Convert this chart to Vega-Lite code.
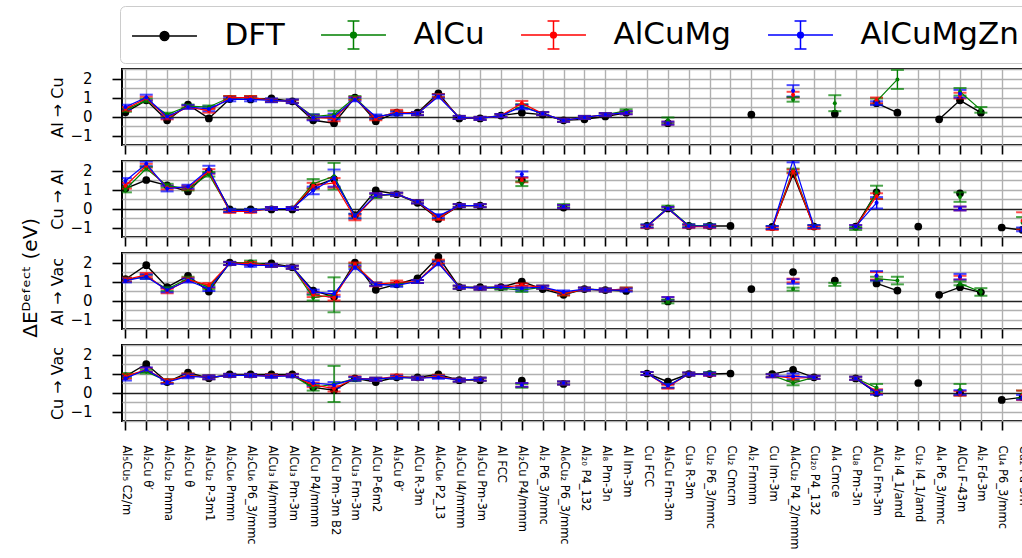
{
"$schema": "https://vega.github.io/schema/vega-lite/v6.json",
"padding": {"left": 20, "top": 5, "right": 0, "bottom": 0},
"title": {"text": "ΔEᴰᵉᶠᵉᶜᵗ (eV)", "orient": "left", "anchor": "middle", "fontSize": 20, "fontWeight": "normal", "font": "DejaVu Sans", "color": "black", "offset": 8},
"spacing": 16,
"bounds": "flush",
"resolve": {"scale": {"color": "shared"}, "legend": {"color": "shared"}},
"data": {"values": [
{"p":1,"i":1,"s":"DFT","v":0.22},{"p":1,"i":2,"s":"DFT","v":0.85},{"p":1,"i":3,"s":"DFT","v":-0.2},{"p":1,"i":4,"s":"DFT","v":0.62},{"p":1,"i":5,"s":"DFT","v":-0.1},{"p":1,"i":6,"s":"DFT","v":0.92},{"p":1,"i":7,"s":"DFT","v":0.9},{"p":1,"i":8,"s":"DFT","v":0.95},{"p":1,"i":9,"s":"DFT","v":0.8},{"p":1,"i":10,"s":"DFT","v":-0.2},{"p":1,"i":11,"s":"DFT","v":-0.35},{"p":1,"i":12,"s":"DFT","v":1.0},{"p":1,"i":13,"s":"DFT","v":-0.25},{"p":1,"i":14,"s":"DFT","v":0.2},{"p":1,"i":15,"s":"DFT","v":0.2},{"p":1,"i":16,"s":"DFT","v":1.22},{"p":1,"i":17,"s":"DFT","v":-0.1},{"p":1,"i":18,"s":"DFT","v":-0.1},{"p":1,"i":19,"s":"DFT","v":0.05},{"p":1,"i":20,"s":"DFT","v":0.2},{"p":1,"i":21,"s":"DFT","v":0.1},{"p":1,"i":22,"s":"DFT","v":-0.2},{"p":1,"i":23,"s":"DFT","v":-0.15},{"p":1,"i":24,"s":"DFT","v":0.0},{"p":1,"i":25,"s":"DFT","v":0.2},{"p":1,"i":26,"s":"DFT","v":null},{"p":1,"i":27,"s":"DFT","v":-0.35},{"p":1,"i":28,"s":"DFT","v":null},{"p":1,"i":31,"s":"DFT","v":0.1},{"p":1,"i":32,"s":"DFT","v":null},{"p":1,"i":35,"s":"DFT","v":0.15},{"p":1,"i":36,"s":"DFT","v":null},{"p":1,"i":37,"s":"DFT","v":0.7},{"p":1,"i":38,"s":"DFT","v":0.2},{"p":1,"i":39,"s":"DFT","v":null},{"p":1,"i":40,"s":"DFT","v":-0.15},{"p":1,"i":41,"s":"DFT","v":0.85},{"p":1,"i":42,"s":"DFT","v":0.2},
{"p":1,"i":1,"s":"AlCu","v":0.35,"e":0.1},{"p":1,"i":2,"s":"AlCu","v":0.85,"e":0.1},{"p":1,"i":3,"s":"AlCu","v":0.1,"e":0.1},{"p":1,"i":4,"s":"AlCu","v":0.55,"e":0.08},{"p":1,"i":5,"s":"AlCu","v":0.5,"e":0.08},{"p":1,"i":6,"s":"AlCu","v":1.0,"e":0.08},{"p":1,"i":7,"s":"AlCu","v":1.0,"e":0.08},{"p":1,"i":8,"s":"AlCu","v":0.85,"e":0.08},{"p":1,"i":9,"s":"AlCu","v":0.8,"e":0.08},{"p":1,"i":10,"s":"AlCu","v":0.0,"e":0.12},{"p":1,"i":11,"s":"AlCu","v":0.1,"e":0.2},{"p":1,"i":12,"s":"AlCu","v":1.0,"e":0.08},{"p":1,"i":13,"s":"AlCu","v":-0.05,"e":0.1},{"p":1,"i":14,"s":"AlCu","v":0.2,"e":0.1},{"p":1,"i":15,"s":"AlCu","v":0.15,"e":0.08},{"p":1,"i":16,"s":"AlCu","v":1.1,"e":0.08},{"p":1,"i":17,"s":"AlCu","v":-0.05,"e":0.08},{"p":1,"i":18,"s":"AlCu","v":-0.1,"e":0.08},{"p":1,"i":19,"s":"AlCu","v":0.05,"e":0.08},{"p":1,"i":20,"s":"AlCu","v":0.55,"e":0.1},{"p":1,"i":21,"s":"AlCu","v":0.15,"e":0.08},{"p":1,"i":22,"s":"AlCu","v":-0.2,"e":0.08},{"p":1,"i":23,"s":"AlCu","v":-0.05,"e":0.08},{"p":1,"i":24,"s":"AlCu","v":0.1,"e":0.08},{"p":1,"i":25,"s":"AlCu","v":0.3,"e":0.08},{"p":1,"i":26,"s":"AlCu","v":null},{"p":1,"i":27,"s":"AlCu","v":-0.2,"e":0.15},{"p":1,"i":28,"s":"AlCu","v":null},{"p":1,"i":33,"s":"AlCu","v":0.9,"e":0.12},{"p":1,"i":34,"s":"AlCu","v":null},{"p":1,"i":35,"s":"AlCu","v":0.7,"e":0.42},{"p":1,"i":36,"s":"AlCu","v":null},{"p":1,"i":37,"s":"AlCu","v":0.8,"e":0.15},{"p":1,"i":38,"s":"AlCu","v":1.95,"e":0.5},{"p":1,"i":39,"s":"AlCu","v":null},{"p":1,"i":41,"s":"AlCu","v":1.3,"e":0.2},{"p":1,"i":42,"s":"AlCu","v":0.35,"e":0.15},
{"p":1,"i":1,"s":"AlCuMg","v":0.4,"e":0.1},{"p":1,"i":2,"s":"AlCuMg","v":0.95,"e":0.1},{"p":1,"i":3,"s":"AlCuMg","v":-0.05,"e":0.1},{"p":1,"i":4,"s":"AlCuMg","v":0.5,"e":0.08},{"p":1,"i":5,"s":"AlCuMg","v":0.3,"e":0.1},{"p":1,"i":6,"s":"AlCuMg","v":1.0,"e":0.08},{"p":1,"i":7,"s":"AlCuMg","v":1.0,"e":0.08},{"p":1,"i":8,"s":"AlCuMg","v":0.85,"e":0.08},{"p":1,"i":9,"s":"AlCuMg","v":0.8,"e":0.08},{"p":1,"i":10,"s":"AlCuMg","v":-0.05,"e":0.12},{"p":1,"i":11,"s":"AlCuMg","v":-0.1,"e":0.15},{"p":1,"i":12,"s":"AlCuMg","v":0.95,"e":0.08},{"p":1,"i":13,"s":"AlCuMg","v":-0.1,"e":0.1},{"p":1,"i":14,"s":"AlCuMg","v":0.25,"e":0.1},{"p":1,"i":15,"s":"AlCuMg","v":0.15,"e":0.08},{"p":1,"i":16,"s":"AlCuMg","v":1.1,"e":0.08},{"p":1,"i":17,"s":"AlCuMg","v":-0.05,"e":0.08},{"p":1,"i":18,"s":"AlCuMg","v":-0.1,"e":0.08},{"p":1,"i":19,"s":"AlCuMg","v":0.05,"e":0.08},{"p":1,"i":20,"s":"AlCuMg","v":0.7,"e":0.12},{"p":1,"i":21,"s":"AlCuMg","v":0.15,"e":0.08},{"p":1,"i":22,"s":"AlCuMg","v":-0.2,"e":0.08},{"p":1,"i":23,"s":"AlCuMg","v":-0.05,"e":0.08},{"p":1,"i":24,"s":"AlCuMg","v":0.1,"e":0.08},{"p":1,"i":25,"s":"AlCuMg","v":0.2,"e":0.08},{"p":1,"i":26,"s":"AlCuMg","v":null},{"p":1,"i":27,"s":"AlCuMg","v":-0.35,"e":0.08},{"p":1,"i":28,"s":"AlCuMg","v":null},{"p":1,"i":33,"s":"AlCuMg","v":1.15,"e":0.15},{"p":1,"i":34,"s":"AlCuMg","v":null},{"p":1,"i":37,"s":"AlCuMg","v":0.85,"e":0.15},{"p":1,"i":39,"s":"AlCuMg","v":null},{"p":1,"i":41,"s":"AlCuMg","v":1.1,"e":0.15},
{"p":1,"i":1,"s":"AlCuMgZn","v":0.5,"e":0.12},{"p":1,"i":2,"s":"AlCuMgZn","v":1.0,"e":0.15},{"p":1,"i":3,"s":"AlCuMgZn","v":0.0,"e":0.1},{"p":1,"i":4,"s":"AlCuMgZn","v":0.5,"e":0.1},{"p":1,"i":5,"s":"AlCuMgZn","v":0.4,"e":0.12},{"p":1,"i":6,"s":"AlCuMgZn","v":0.9,"e":0.1},{"p":1,"i":7,"s":"AlCuMgZn","v":0.9,"e":0.1},{"p":1,"i":8,"s":"AlCuMgZn","v":0.85,"e":0.1},{"p":1,"i":9,"s":"AlCuMgZn","v":0.8,"e":0.1},{"p":1,"i":10,"s":"AlCuMgZn","v":-0.05,"e":0.15},{"p":1,"i":11,"s":"AlCuMgZn","v":0.0,"e":0.15},{"p":1,"i":12,"s":"AlCuMgZn","v":0.9,"e":0.1},{"p":1,"i":13,"s":"AlCuMgZn","v":0.0,"e":0.1},{"p":1,"i":14,"s":"AlCuMgZn","v":0.15,"e":0.1},{"p":1,"i":15,"s":"AlCuMgZn","v":0.15,"e":0.08},{"p":1,"i":16,"s":"AlCuMgZn","v":1.05,"e":0.1},{"p":1,"i":17,"s":"AlCuMgZn","v":-0.05,"e":0.08},{"p":1,"i":18,"s":"AlCuMgZn","v":-0.1,"e":0.08},{"p":1,"i":19,"s":"AlCuMgZn","v":0.05,"e":0.08},{"p":1,"i":20,"s":"AlCuMgZn","v":0.5,"e":0.12},{"p":1,"i":21,"s":"AlCuMgZn","v":0.15,"e":0.08},{"p":1,"i":22,"s":"AlCuMgZn","v":-0.2,"e":0.08},{"p":1,"i":23,"s":"AlCuMgZn","v":-0.05,"e":0.08},{"p":1,"i":24,"s":"AlCuMgZn","v":0.1,"e":0.08},{"p":1,"i":25,"s":"AlCuMgZn","v":0.2,"e":0.08},{"p":1,"i":26,"s":"AlCuMgZn","v":null},{"p":1,"i":27,"s":"AlCuMgZn","v":-0.35,"e":0.08},{"p":1,"i":28,"s":"AlCuMgZn","v":null},{"p":1,"i":33,"s":"AlCuMgZn","v":1.35,"e":0.3},{"p":1,"i":34,"s":"AlCuMgZn","v":null},{"p":1,"i":37,"s":"AlCuMgZn","v":0.7,"e":0.1},{"p":1,"i":39,"s":"AlCuMgZn","v":null},{"p":1,"i":41,"s":"AlCuMgZn","v":1.2,"e":0.2},

{"p":2,"i":1,"s":"DFT","v":1.05},{"p":2,"i":2,"s":"DFT","v":1.5},{"p":2,"i":3,"s":"DFT","v":1.22},{"p":2,"i":4,"s":"DFT","v":0.9},{"p":2,"i":5,"s":"DFT","v":1.95},{"p":2,"i":6,"s":"DFT","v":-0.05},{"p":2,"i":7,"s":"DFT","v":-0.05},{"p":2,"i":8,"s":"DFT","v":-0.05},{"p":2,"i":9,"s":"DFT","v":-0.05},{"p":2,"i":10,"s":"DFT","v":1.15},{"p":2,"i":11,"s":"DFT","v":1.55},{"p":2,"i":12,"s":"DFT","v":-0.35},{"p":2,"i":13,"s":"DFT","v":0.95},{"p":2,"i":14,"s":"DFT","v":0.75},{"p":2,"i":15,"s":"DFT","v":0.3},{"p":2,"i":16,"s":"DFT","v":-0.55},{"p":2,"i":17,"s":"DFT","v":0.15},{"p":2,"i":18,"s":"DFT","v":0.15},{"p":2,"i":19,"s":"DFT","v":null},{"p":2,"i":20,"s":"DFT","v":1.5},{"p":2,"i":21,"s":"DFT","v":null},{"p":2,"i":22,"s":"DFT","v":0.05},{"p":2,"i":23,"s":"DFT","v":null},{"p":2,"i":26,"s":"DFT","v":-0.92},{"p":2,"i":27,"s":"DFT","v":0.0},{"p":2,"i":28,"s":"DFT","v":-0.92},{"p":2,"i":29,"s":"DFT","v":-0.92},{"p":2,"i":30,"s":"DFT","v":-0.92},{"p":2,"i":31,"s":"DFT","v":null},{"p":2,"i":32,"s":"DFT","v":-0.97},{"p":2,"i":33,"s":"DFT","v":1.82},{"p":2,"i":34,"s":"DFT","v":-0.95},{"p":2,"i":35,"s":"DFT","v":null},{"p":2,"i":36,"s":"DFT","v":-0.95},{"p":2,"i":37,"s":"DFT","v":0.85},{"p":2,"i":38,"s":"DFT","v":null},{"p":2,"i":39,"s":"DFT","v":-0.95},{"p":2,"i":40,"s":"DFT","v":null},{"p":2,"i":41,"s":"DFT","v":0.8},{"p":2,"i":42,"s":"DFT","v":null},{"p":2,"i":43,"s":"DFT","v":-1.0},{"p":2,"i":44,"s":"DFT","v":-1.13},
{"p":2,"i":1,"s":"AlCu","v":1.0,"e":0.15},{"p":2,"i":2,"s":"AlCu","v":2.1,"e":0.1},{"p":2,"i":3,"s":"AlCu","v":1.2,"e":0.1},{"p":2,"i":4,"s":"AlCu","v":1.05,"e":0.1},{"p":2,"i":5,"s":"AlCu","v":1.8,"e":0.12},{"p":2,"i":6,"s":"AlCu","v":-0.1,"e":0.08},{"p":2,"i":7,"s":"AlCu","v":-0.1,"e":0.08},{"p":2,"i":8,"s":"AlCu","v":0.0,"e":0.08},{"p":2,"i":9,"s":"AlCu","v":0.0,"e":0.08},{"p":2,"i":10,"s":"AlCu","v":1.3,"e":0.25},{"p":2,"i":11,"s":"AlCu","v":1.7,"e":0.7},{"p":2,"i":12,"s":"AlCu","v":-0.4,"e":0.12},{"p":2,"i":13,"s":"AlCu","v":0.65,"e":0.1},{"p":2,"i":14,"s":"AlCu","v":0.75,"e":0.08},{"p":2,"i":15,"s":"AlCu","v":0.35,"e":0.08},{"p":2,"i":16,"s":"AlCu","v":-0.45,"e":0.1},{"p":2,"i":17,"s":"AlCu","v":0.15,"e":0.08},{"p":2,"i":18,"s":"AlCu","v":0.15,"e":0.08},{"p":2,"i":19,"s":"AlCu","v":null},{"p":2,"i":20,"s":"AlCu","v":1.3,"e":0.12},{"p":2,"i":21,"s":"AlCu","v":null},{"p":2,"i":22,"s":"AlCu","v":0.15,"e":0.08},{"p":2,"i":23,"s":"AlCu","v":null},{"p":2,"i":26,"s":"AlCu","v":-0.92,"e":0.08},{"p":2,"i":27,"s":"AlCu","v":0.05,"e":0.1},{"p":2,"i":28,"s":"AlCu","v":-0.9,"e":0.08},{"p":2,"i":29,"s":"AlCu","v":-0.9,"e":0.08},{"p":2,"i":30,"s":"AlCu","v":null},{"p":2,"i":32,"s":"AlCu","v":-1.0,"e":0.08},{"p":2,"i":33,"s":"AlCu","v":2.0,"e":0.1},{"p":2,"i":34,"s":"AlCu","v":-0.95,"e":0.08},{"p":2,"i":35,"s":"AlCu","v":null},{"p":2,"i":36,"s":"AlCu","v":-1.05,"e":0.08},{"p":2,"i":37,"s":"AlCu","v":0.85,"e":0.35},{"p":2,"i":38,"s":"AlCu","v":null},{"p":2,"i":41,"s":"AlCu","v":0.6,"e":0.25},{"p":2,"i":42,"s":"AlCu","v":null},{"p":2,"i":44,"s":"AlCu","v":-0.75,"e":0.3},
{"p":2,"i":1,"s":"AlCuMg","v":1.2,"e":0.15},{"p":2,"i":2,"s":"AlCuMg","v":2.25,"e":0.1},{"p":2,"i":3,"s":"AlCuMg","v":1.1,"e":0.1},{"p":2,"i":4,"s":"AlCuMg","v":1.1,"e":0.1},{"p":2,"i":5,"s":"AlCuMg","v":1.95,"e":0.12},{"p":2,"i":6,"s":"AlCuMg","v":-0.15,"e":0.08},{"p":2,"i":7,"s":"AlCuMg","v":-0.15,"e":0.08},{"p":2,"i":8,"s":"AlCuMg","v":0.0,"e":0.08},{"p":2,"i":9,"s":"AlCuMg","v":0.0,"e":0.08},{"p":2,"i":10,"s":"AlCuMg","v":1.2,"e":0.15},{"p":2,"i":11,"s":"AlCuMg","v":1.35,"e":0.25},{"p":2,"i":12,"s":"AlCuMg","v":-0.5,"e":0.12},{"p":2,"i":13,"s":"AlCuMg","v":0.7,"e":0.1},{"p":2,"i":14,"s":"AlCuMg","v":0.75,"e":0.08},{"p":2,"i":15,"s":"AlCuMg","v":0.35,"e":0.08},{"p":2,"i":16,"s":"AlCuMg","v":-0.5,"e":0.1},{"p":2,"i":17,"s":"AlCuMg","v":0.15,"e":0.08},{"p":2,"i":18,"s":"AlCuMg","v":0.15,"e":0.08},{"p":2,"i":19,"s":"AlCuMg","v":null},{"p":2,"i":20,"s":"AlCuMg","v":1.5,"e":0.12},{"p":2,"i":21,"s":"AlCuMg","v":null},{"p":2,"i":22,"s":"AlCuMg","v":0.1,"e":0.08},{"p":2,"i":23,"s":"AlCuMg","v":null},{"p":2,"i":26,"s":"AlCuMg","v":-0.95,"e":0.08},{"p":2,"i":27,"s":"AlCuMg","v":0.0,"e":0.08},{"p":2,"i":28,"s":"AlCuMg","v":-0.95,"e":0.08},{"p":2,"i":29,"s":"AlCuMg","v":-0.95,"e":0.08},{"p":2,"i":30,"s":"AlCuMg","v":null},{"p":2,"i":32,"s":"AlCuMg","v":-1.05,"e":0.08},{"p":2,"i":33,"s":"AlCuMg","v":1.95,"e":0.1},{"p":2,"i":34,"s":"AlCuMg","v":-1.0,"e":0.08},{"p":2,"i":35,"s":"AlCuMg","v":null},{"p":2,"i":36,"s":"AlCuMg","v":-0.95,"e":0.08},{"p":2,"i":37,"s":"AlCuMg","v":0.65,"e":0.15},{"p":2,"i":38,"s":"AlCuMg","v":null},{"p":2,"i":41,"s":"AlCuMg","v":0.0,"e":0.1},{"p":2,"i":42,"s":"AlCuMg","v":null},{"p":2,"i":44,"s":"AlCuMg","v":-0.65,"e":0.45},
{"p":2,"i":1,"s":"AlCuMgZn","v":1.45,"e":0.15},{"p":2,"i":2,"s":"AlCuMgZn","v":2.35,"e":0.12},{"p":2,"i":3,"s":"AlCuMgZn","v":1.05,"e":0.15},{"p":2,"i":4,"s":"AlCuMgZn","v":1.15,"e":0.1},{"p":2,"i":5,"s":"AlCuMgZn","v":2.05,"e":0.2},{"p":2,"i":6,"s":"AlCuMgZn","v":-0.1,"e":0.08},{"p":2,"i":7,"s":"AlCuMgZn","v":-0.1,"e":0.08},{"p":2,"i":8,"s":"AlCuMgZn","v":0.0,"e":0.08},{"p":2,"i":9,"s":"AlCuMgZn","v":0.0,"e":0.08},{"p":2,"i":10,"s":"AlCuMgZn","v":0.95,"e":0.2},{"p":2,"i":11,"s":"AlCuMgZn","v":1.6,"e":0.45},{"p":2,"i":12,"s":"AlCuMgZn","v":-0.4,"e":0.12},{"p":2,"i":13,"s":"AlCuMgZn","v":0.7,"e":0.1},{"p":2,"i":14,"s":"AlCuMgZn","v":0.75,"e":0.08},{"p":2,"i":15,"s":"AlCuMgZn","v":0.35,"e":0.08},{"p":2,"i":16,"s":"AlCuMgZn","v":-0.4,"e":0.1},{"p":2,"i":17,"s":"AlCuMgZn","v":0.15,"e":0.08},{"p":2,"i":18,"s":"AlCuMgZn","v":0.15,"e":0.08},{"p":2,"i":19,"s":"AlCuMgZn","v":null},{"p":2,"i":20,"s":"AlCuMgZn","v":1.8,"e":0.15},{"p":2,"i":21,"s":"AlCuMgZn","v":null},{"p":2,"i":22,"s":"AlCuMgZn","v":0.1,"e":0.08},{"p":2,"i":23,"s":"AlCuMgZn","v":null},{"p":2,"i":26,"s":"AlCuMgZn","v":-0.92,"e":0.08},{"p":2,"i":27,"s":"AlCuMgZn","v":0.0,"e":0.08},{"p":2,"i":28,"s":"AlCuMgZn","v":-0.92,"e":0.08},{"p":2,"i":29,"s":"AlCuMgZn","v":-0.92,"e":0.08},{"p":2,"i":30,"s":"AlCuMgZn","v":null},{"p":2,"i":32,"s":"AlCuMgZn","v":-1.0,"e":0.08},{"p":2,"i":33,"s":"AlCuMgZn","v":2.55,"e":0.12},{"p":2,"i":34,"s":"AlCuMgZn","v":-0.95,"e":0.08},{"p":2,"i":35,"s":"AlCuMgZn","v":null},{"p":2,"i":36,"s":"AlCuMgZn","v":-0.95,"e":0.08},{"p":2,"i":37,"s":"AlCuMgZn","v":0.3,"e":0.3},{"p":2,"i":38,"s":"AlCuMgZn","v":null},{"p":2,"i":41,"s":"AlCuMgZn","v":0.0,"e":0.1},{"p":2,"i":42,"s":"AlCuMgZn","v":null},{"p":2,"i":44,"s":"AlCuMgZn","v":-1.1,"e":0.1},

{"p":3,"i":1,"s":"DFT","v":1.12},{"p":3,"i":2,"s":"DFT","v":1.86},{"p":3,"i":3,"s":"DFT","v":0.7},{"p":3,"i":4,"s":"DFT","v":1.3},{"p":3,"i":5,"s":"DFT","v":0.47},{"p":3,"i":6,"s":"DFT","v":2.0},{"p":3,"i":7,"s":"DFT","v":1.95},{"p":3,"i":8,"s":"DFT","v":1.95},{"p":3,"i":9,"s":"DFT","v":1.75},{"p":3,"i":10,"s":"DFT","v":0.52},{"p":3,"i":11,"s":"DFT","v":0.2},{"p":3,"i":12,"s":"DFT","v":2.0},{"p":3,"i":13,"s":"DFT","v":0.56},{"p":3,"i":14,"s":"DFT","v":0.85},{"p":3,"i":15,"s":"DFT","v":1.17},{"p":3,"i":16,"s":"DFT","v":2.3},{"p":3,"i":17,"s":"DFT","v":0.7},{"p":3,"i":18,"s":"DFT","v":0.7},{"p":3,"i":19,"s":"DFT","v":0.7},{"p":3,"i":20,"s":"DFT","v":1.0},{"p":3,"i":21,"s":"DFT","v":0.6},{"p":3,"i":22,"s":"DFT","v":0.3},{"p":3,"i":23,"s":"DFT","v":0.6},{"p":3,"i":24,"s":"DFT","v":0.55},{"p":3,"i":25,"s":"DFT","v":0.5},{"p":3,"i":26,"s":"DFT","v":null},{"p":3,"i":27,"s":"DFT","v":-0.05},{"p":3,"i":28,"s":"DFT","v":null},{"p":3,"i":31,"s":"DFT","v":0.6},{"p":3,"i":32,"s":"DFT","v":null},{"p":3,"i":33,"s":"DFT","v":1.5},{"p":3,"i":34,"s":"DFT","v":null},{"p":3,"i":35,"s":"DFT","v":1.05},{"p":3,"i":36,"s":"DFT","v":null},{"p":3,"i":37,"s":"DFT","v":0.9},{"p":3,"i":38,"s":"DFT","v":0.52},{"p":3,"i":39,"s":"DFT","v":null},{"p":3,"i":40,"s":"DFT","v":0.3},{"p":3,"i":41,"s":"DFT","v":0.7},{"p":3,"i":42,"s":"DFT","v":0.43},
{"p":3,"i":1,"s":"AlCu","v":1.1,"e":0.1},{"p":3,"i":2,"s":"AlCu","v":1.25,"e":0.1},{"p":3,"i":3,"s":"AlCu","v":0.6,"e":0.1},{"p":3,"i":4,"s":"AlCu","v":1.15,"e":0.1},{"p":3,"i":5,"s":"AlCu","v":0.7,"e":0.1},{"p":3,"i":6,"s":"AlCu","v":1.95,"e":0.08},{"p":3,"i":7,"s":"AlCu","v":2.0,"e":0.1},{"p":3,"i":8,"s":"AlCu","v":1.85,"e":0.08},{"p":3,"i":9,"s":"AlCu","v":1.75,"e":0.08},{"p":3,"i":10,"s":"AlCu","v":0.15,"e":0.15},{"p":3,"i":11,"s":"AlCu","v":0.3,"e":0.92},{"p":3,"i":12,"s":"AlCu","v":1.85,"e":0.1},{"p":3,"i":13,"s":"AlCu","v":0.85,"e":0.08},{"p":3,"i":14,"s":"AlCu","v":0.85,"e":0.08},{"p":3,"i":15,"s":"AlCu","v":1.0,"e":0.08},{"p":3,"i":16,"s":"AlCu","v":2.0,"e":0.1},{"p":3,"i":17,"s":"AlCu","v":0.7,"e":0.08},{"p":3,"i":18,"s":"AlCu","v":0.65,"e":0.08},{"p":3,"i":19,"s":"AlCu","v":0.65,"e":0.08},{"p":3,"i":20,"s":"AlCu","v":0.55,"e":0.1},{"p":3,"i":21,"s":"AlCu","v":0.7,"e":0.08},{"p":3,"i":22,"s":"AlCu","v":0.35,"e":0.08},{"p":3,"i":23,"s":"AlCu","v":0.6,"e":0.08},{"p":3,"i":24,"s":"AlCu","v":0.55,"e":0.08},{"p":3,"i":25,"s":"AlCu","v":0.6,"e":0.08},{"p":3,"i":26,"s":"AlCu","v":null},{"p":3,"i":27,"s":"AlCu","v":-0.05,"e":0.1},{"p":3,"i":28,"s":"AlCu","v":null},{"p":3,"i":33,"s":"AlCu","v":0.6,"e":0.08},{"p":3,"i":34,"s":"AlCu","v":null},{"p":3,"i":35,"s":"AlCu","v":0.85,"e":0.08},{"p":3,"i":36,"s":"AlCu","v":null},{"p":3,"i":37,"s":"AlCu","v":1.15,"e":0.1},{"p":3,"i":38,"s":"AlCu","v":1.05,"e":0.2},{"p":3,"i":39,"s":"AlCu","v":null},{"p":3,"i":41,"s":"AlCu","v":0.9,"e":0.1},{"p":3,"i":42,"s":"AlCu","v":0.45,"e":0.2},
{"p":3,"i":1,"s":"AlCuMg","v":1.1,"e":0.1},{"p":3,"i":2,"s":"AlCuMg","v":1.35,"e":0.1},{"p":3,"i":3,"s":"AlCuMg","v":0.5,"e":0.12},{"p":3,"i":4,"s":"AlCuMg","v":1.1,"e":0.1},{"p":3,"i":5,"s":"AlCuMg","v":0.8,"e":0.12},{"p":3,"i":6,"s":"AlCuMg","v":1.95,"e":0.08},{"p":3,"i":7,"s":"AlCuMg","v":1.95,"e":0.08},{"p":3,"i":8,"s":"AlCuMg","v":1.85,"e":0.08},{"p":3,"i":9,"s":"AlCuMg","v":1.75,"e":0.08},{"p":3,"i":10,"s":"AlCuMg","v":0.3,"e":0.12},{"p":3,"i":11,"s":"AlCuMg","v":0.15,"e":0.15},{"p":3,"i":12,"s":"AlCuMg","v":1.9,"e":0.1},{"p":3,"i":13,"s":"AlCuMg","v":0.85,"e":0.1},{"p":3,"i":14,"s":"AlCuMg","v":0.95,"e":0.1},{"p":3,"i":15,"s":"AlCuMg","v":1.0,"e":0.08},{"p":3,"i":16,"s":"AlCuMg","v":2.05,"e":0.1},{"p":3,"i":17,"s":"AlCuMg","v":0.7,"e":0.08},{"p":3,"i":18,"s":"AlCuMg","v":0.65,"e":0.08},{"p":3,"i":19,"s":"AlCuMg","v":0.7,"e":0.08},{"p":3,"i":20,"s":"AlCuMg","v":0.8,"e":0.1},{"p":3,"i":21,"s":"AlCuMg","v":0.7,"e":0.08},{"p":3,"i":22,"s":"AlCuMg","v":0.35,"e":0.08},{"p":3,"i":23,"s":"AlCuMg","v":0.6,"e":0.08},{"p":3,"i":24,"s":"AlCuMg","v":0.55,"e":0.08},{"p":3,"i":25,"s":"AlCuMg","v":0.6,"e":0.08},{"p":3,"i":26,"s":"AlCuMg","v":null},{"p":3,"i":27,"s":"AlCuMg","v":0.1,"e":0.08},{"p":3,"i":28,"s":"AlCuMg","v":null},{"p":3,"i":33,"s":"AlCuMg","v":1.05,"e":0.1},{"p":3,"i":34,"s":"AlCuMg","v":null},{"p":3,"i":37,"s":"AlCuMg","v":1.3,"e":0.2},{"p":3,"i":39,"s":"AlCuMg","v":null},{"p":3,"i":41,"s":"AlCuMg","v":1.2,"e":0.1},
{"p":3,"i":1,"s":"AlCuMgZn","v":1.05,"e":0.1},{"p":3,"i":2,"s":"AlCuMgZn","v":1.25,"e":0.12},{"p":3,"i":3,"s":"AlCuMgZn","v":0.55,"e":0.12},{"p":3,"i":4,"s":"AlCuMgZn","v":1.05,"e":0.1},{"p":3,"i":5,"s":"AlCuMgZn","v":0.6,"e":0.1},{"p":3,"i":6,"s":"AlCuMgZn","v":1.95,"e":0.08},{"p":3,"i":7,"s":"AlCuMgZn","v":1.85,"e":0.08},{"p":3,"i":8,"s":"AlCuMgZn","v":1.85,"e":0.08},{"p":3,"i":9,"s":"AlCuMgZn","v":1.75,"e":0.08},{"p":3,"i":10,"s":"AlCuMgZn","v":0.45,"e":0.12},{"p":3,"i":11,"s":"AlCuMgZn","v":0.35,"e":0.15},{"p":3,"i":12,"s":"AlCuMgZn","v":1.75,"e":0.1},{"p":3,"i":13,"s":"AlCuMgZn","v":0.85,"e":0.08},{"p":3,"i":14,"s":"AlCuMgZn","v":0.8,"e":0.08},{"p":3,"i":15,"s":"AlCuMgZn","v":1.0,"e":0.08},{"p":3,"i":16,"s":"AlCuMgZn","v":1.95,"e":0.1},{"p":3,"i":17,"s":"AlCuMgZn","v":0.7,"e":0.08},{"p":3,"i":18,"s":"AlCuMgZn","v":0.65,"e":0.08},{"p":3,"i":19,"s":"AlCuMgZn","v":0.7,"e":0.08},{"p":3,"i":20,"s":"AlCuMgZn","v":0.65,"e":0.12},{"p":3,"i":21,"s":"AlCuMgZn","v":0.7,"e":0.08},{"p":3,"i":22,"s":"AlCuMgZn","v":0.45,"e":0.08},{"p":3,"i":23,"s":"AlCuMgZn","v":0.6,"e":0.08},{"p":3,"i":24,"s":"AlCuMgZn","v":0.55,"e":0.08},{"p":3,"i":25,"s":"AlCuMgZn","v":0.55,"e":0.08},{"p":3,"i":26,"s":"AlCuMgZn","v":null},{"p":3,"i":27,"s":"AlCuMgZn","v":0.1,"e":0.08},{"p":3,"i":28,"s":"AlCuMgZn","v":null},{"p":3,"i":33,"s":"AlCuMgZn","v":1.0,"e":0.12},{"p":3,"i":34,"s":"AlCuMgZn","v":null},{"p":3,"i":37,"s":"AlCuMgZn","v":1.3,"e":0.25},{"p":3,"i":39,"s":"AlCuMgZn","v":null},{"p":3,"i":41,"s":"AlCuMgZn","v":1.25,"e":0.15},

{"p":4,"i":1,"s":"DFT","v":0.85},{"p":4,"i":2,"s":"DFT","v":1.5},{"p":4,"i":3,"s":"DFT","v":0.55},{"p":4,"i":4,"s":"DFT","v":1.05},{"p":4,"i":5,"s":"DFT","v":0.75},{"p":4,"i":6,"s":"DFT","v":0.95},{"p":4,"i":7,"s":"DFT","v":0.95},{"p":4,"i":8,"s":"DFT","v":0.95},{"p":4,"i":9,"s":"DFT","v":0.95},{"p":4,"i":10,"s":"DFT","v":0.27},{"p":4,"i":11,"s":"DFT","v":0.12},{"p":4,"i":12,"s":"DFT","v":0.75},{"p":4,"i":13,"s":"DFT","v":0.55},{"p":4,"i":14,"s":"DFT","v":0.8},{"p":4,"i":15,"s":"DFT","v":0.8},{"p":4,"i":16,"s":"DFT","v":0.95},{"p":4,"i":17,"s":"DFT","v":0.65},{"p":4,"i":18,"s":"DFT","v":0.65},{"p":4,"i":19,"s":"DFT","v":null},{"p":4,"i":20,"s":"DFT","v":0.62},{"p":4,"i":21,"s":"DFT","v":null},{"p":4,"i":22,"s":"DFT","v":0.45},{"p":4,"i":23,"s":"DFT","v":null},{"p":4,"i":26,"s":"DFT","v":1.0},{"p":4,"i":27,"s":"DFT","v":0.57},{"p":4,"i":28,"s":"DFT","v":0.97},{"p":4,"i":29,"s":"DFT","v":0.97},{"p":4,"i":30,"s":"DFT","v":1.0},{"p":4,"i":31,"s":"DFT","v":null},{"p":4,"i":32,"s":"DFT","v":0.97},{"p":4,"i":33,"s":"DFT","v":1.19},{"p":4,"i":34,"s":"DFT","v":0.8},{"p":4,"i":35,"s":"DFT","v":null},{"p":4,"i":36,"s":"DFT","v":0.74},{"p":4,"i":37,"s":"DFT","v":-0.02},{"p":4,"i":38,"s":"DFT","v":null},{"p":4,"i":39,"s":"DFT","v":0.5},{"p":4,"i":40,"s":"DFT","v":null},{"p":4,"i":41,"s":"DFT","v":0.0},{"p":4,"i":42,"s":"DFT","v":null},{"p":4,"i":43,"s":"DFT","v":-0.39},{"p":4,"i":44,"s":"DFT","v":-0.25},
{"p":4,"i":1,"s":"AlCu","v":0.9,"e":0.12},{"p":4,"i":2,"s":"AlCu","v":1.1,"e":0.1},{"p":4,"i":3,"s":"AlCu","v":0.6,"e":0.1},{"p":4,"i":4,"s":"AlCu","v":0.9,"e":0.1},{"p":4,"i":5,"s":"AlCu","v":0.8,"e":0.1},{"p":4,"i":6,"s":"AlCu","v":0.9,"e":0.08},{"p":4,"i":7,"s":"AlCu","v":0.9,"e":0.08},{"p":4,"i":8,"s":"AlCu","v":0.88,"e":0.08},{"p":4,"i":9,"s":"AlCu","v":0.9,"e":0.08},{"p":4,"i":10,"s":"AlCu","v":0.25,"e":0.15},{"p":4,"i":11,"s":"AlCu","v":0.45,"e":0.95},{"p":4,"i":12,"s":"AlCu","v":0.7,"e":0.1},{"p":4,"i":13,"s":"AlCu","v":0.7,"e":0.08},{"p":4,"i":14,"s":"AlCu","v":0.8,"e":0.08},{"p":4,"i":15,"s":"AlCu","v":0.75,"e":0.08},{"p":4,"i":16,"s":"AlCu","v":0.85,"e":0.08},{"p":4,"i":17,"s":"AlCu","v":0.65,"e":0.08},{"p":4,"i":18,"s":"AlCu","v":0.7,"e":0.08},{"p":4,"i":19,"s":"AlCu","v":null},{"p":4,"i":20,"s":"AlCu","v":0.35,"e":0.1},{"p":4,"i":21,"s":"AlCu","v":null},{"p":4,"i":22,"s":"AlCu","v":0.5,"e":0.08},{"p":4,"i":23,"s":"AlCu","v":null},{"p":4,"i":26,"s":"AlCu","v":1.0,"e":0.08},{"p":4,"i":27,"s":"AlCu","v":0.35,"e":0.1},{"p":4,"i":28,"s":"AlCu","v":0.97,"e":0.08},{"p":4,"i":29,"s":"AlCu","v":1.0,"e":0.08},{"p":4,"i":30,"s":"AlCu","v":null},{"p":4,"i":32,"s":"AlCu","v":0.9,"e":0.08},{"p":4,"i":33,"s":"AlCu","v":0.5,"e":0.12},{"p":4,"i":34,"s":"AlCu","v":0.8,"e":0.08},{"p":4,"i":35,"s":"AlCu","v":null},{"p":4,"i":36,"s":"AlCu","v":0.75,"e":0.08},{"p":4,"i":37,"s":"AlCu","v":0.25,"e":0.2},{"p":4,"i":38,"s":"AlCu","v":null},{"p":4,"i":41,"s":"AlCu","v":0.15,"e":0.3},{"p":4,"i":42,"s":"AlCu","v":null},{"p":4,"i":44,"s":"AlCu","v":-0.1,"e":0.2},
{"p":4,"i":1,"s":"AlCuMg","v":0.85,"e":0.12},{"p":4,"i":2,"s":"AlCuMg","v":1.2,"e":0.1},{"p":4,"i":3,"s":"AlCuMg","v":0.6,"e":0.1},{"p":4,"i":4,"s":"AlCuMg","v":0.9,"e":0.1},{"p":4,"i":5,"s":"AlCuMg","v":0.8,"e":0.1},{"p":4,"i":6,"s":"AlCuMg","v":0.9,"e":0.08},{"p":4,"i":7,"s":"AlCuMg","v":0.9,"e":0.08},{"p":4,"i":8,"s":"AlCuMg","v":0.88,"e":0.08},{"p":4,"i":9,"s":"AlCuMg","v":0.9,"e":0.08},{"p":4,"i":10,"s":"AlCuMg","v":0.4,"e":0.12},{"p":4,"i":11,"s":"AlCuMg","v":0.2,"e":0.15},{"p":4,"i":12,"s":"AlCuMg","v":0.75,"e":0.1},{"p":4,"i":13,"s":"AlCuMg","v":0.7,"e":0.08},{"p":4,"i":14,"s":"AlCuMg","v":0.85,"e":0.1},{"p":4,"i":15,"s":"AlCuMg","v":0.75,"e":0.08},{"p":4,"i":16,"s":"AlCuMg","v":0.85,"e":0.08},{"p":4,"i":17,"s":"AlCuMg","v":0.65,"e":0.08},{"p":4,"i":18,"s":"AlCuMg","v":0.7,"e":0.08},{"p":4,"i":19,"s":"AlCuMg","v":null},{"p":4,"i":20,"s":"AlCuMg","v":0.4,"e":0.1},{"p":4,"i":21,"s":"AlCuMg","v":null},{"p":4,"i":22,"s":"AlCuMg","v":0.5,"e":0.08},{"p":4,"i":23,"s":"AlCuMg","v":null},{"p":4,"i":26,"s":"AlCuMg","v":1.0,"e":0.08},{"p":4,"i":27,"s":"AlCuMg","v":0.3,"e":0.1},{"p":4,"i":28,"s":"AlCuMg","v":0.97,"e":0.08},{"p":4,"i":29,"s":"AlCuMg","v":0.95,"e":0.08},{"p":4,"i":30,"s":"AlCuMg","v":null},{"p":4,"i":32,"s":"AlCuMg","v":0.88,"e":0.08},{"p":4,"i":33,"s":"AlCuMg","v":0.75,"e":0.12},{"p":4,"i":34,"s":"AlCuMg","v":0.8,"e":0.08},{"p":4,"i":35,"s":"AlCuMg","v":null},{"p":4,"i":36,"s":"AlCuMg","v":0.75,"e":0.08},{"p":4,"i":37,"s":"AlCuMg","v":0.05,"e":0.12},{"p":4,"i":38,"s":"AlCuMg","v":null},{"p":4,"i":41,"s":"AlCuMg","v":-0.05,"e":0.12},{"p":4,"i":42,"s":"AlCuMg","v":null},{"p":4,"i":44,"s":"AlCuMg","v":-0.15,"e":0.25},
{"p":4,"i":1,"s":"AlCuMgZn","v":0.75,"e":0.12},{"p":4,"i":2,"s":"AlCuMgZn","v":1.2,"e":0.12},{"p":4,"i":3,"s":"AlCuMgZn","v":0.55,"e":0.1},{"p":4,"i":4,"s":"AlCuMgZn","v":0.85,"e":0.1},{"p":4,"i":5,"s":"AlCuMgZn","v":0.8,"e":0.1},{"p":4,"i":6,"s":"AlCuMgZn","v":0.9,"e":0.08},{"p":4,"i":7,"s":"AlCuMgZn","v":0.9,"e":0.08},{"p":4,"i":8,"s":"AlCuMgZn","v":0.85,"e":0.08},{"p":4,"i":9,"s":"AlCuMgZn","v":0.88,"e":0.08},{"p":4,"i":10,"s":"AlCuMgZn","v":0.5,"e":0.15},{"p":4,"i":11,"s":"AlCuMgZn","v":0.4,"e":0.15},{"p":4,"i":12,"s":"AlCuMgZn","v":0.72,"e":0.1},{"p":4,"i":13,"s":"AlCuMgZn","v":0.7,"e":0.08},{"p":4,"i":14,"s":"AlCuMgZn","v":0.8,"e":0.08},{"p":4,"i":15,"s":"AlCuMgZn","v":0.75,"e":0.08},{"p":4,"i":16,"s":"AlCuMgZn","v":0.8,"e":0.08},{"p":4,"i":17,"s":"AlCuMgZn","v":0.65,"e":0.08},{"p":4,"i":18,"s":"AlCuMgZn","v":0.7,"e":0.08},{"p":4,"i":19,"s":"AlCuMgZn","v":null},{"p":4,"i":20,"s":"AlCuMgZn","v":0.4,"e":0.1},{"p":4,"i":21,"s":"AlCuMgZn","v":null},{"p":4,"i":22,"s":"AlCuMgZn","v":0.5,"e":0.08},{"p":4,"i":23,"s":"AlCuMgZn","v":null},{"p":4,"i":26,"s":"AlCuMgZn","v":1.0,"e":0.08},{"p":4,"i":27,"s":"AlCuMgZn","v":0.35,"e":0.1},{"p":4,"i":28,"s":"AlCuMgZn","v":0.97,"e":0.08},{"p":4,"i":29,"s":"AlCuMgZn","v":0.97,"e":0.08},{"p":4,"i":30,"s":"AlCuMgZn","v":null},{"p":4,"i":32,"s":"AlCuMgZn","v":0.88,"e":0.08},{"p":4,"i":33,"s":"AlCuMgZn","v":0.85,"e":0.15},{"p":4,"i":34,"s":"AlCuMgZn","v":0.8,"e":0.08},{"p":4,"i":35,"s":"AlCuMgZn","v":null},{"p":4,"i":36,"s":"AlCuMgZn","v":0.75,"e":0.08},{"p":4,"i":37,"s":"AlCuMgZn","v":0.0,"e":0.12},{"p":4,"i":38,"s":"AlCuMgZn","v":null},{"p":4,"i":41,"s":"AlCuMgZn","v":0.0,"e":0.12},{"p":4,"i":42,"s":"AlCuMgZn","v":null},{"p":4,"i":44,"s":"AlCuMgZn","v":-0.25,"e":0.12}
]},
"vconcat": [
{
 "width": 904, "height": 76,
 "transform": [{"filter": "datum.p === 1"}],
 "encoding": {
  "x": {"field": "i", "type": "ordinal", "scale": {"type": "point", "domain": [1,2,3,4,5,6,7,8,9,10,11,12,13,14,15,16,17,18,19,20,21,22,23,24,25,26,27,28,29,30,31,32,33,34,35,36,37,38,39,40,41,42,43,44], "padding": 0.163}, "axis": {"title": null, "labels": false, "grid": true, "tickSize": 9}},
  "y": {"field": "v", "type": "quantitative", "scale": {"domain": [-1.5, 2.5], "nice": false, "zero": false}, "axis": {"title": "Al → Cu", "values": [-1.5,-1,-0.5,0,0.5,1,1.5,2,2.5], "labelExpr": "datum.value === -1 ? '−1' : (datum.value % 1 === 0 ? format(datum.value, 'd') : '')", "labelFontSize": 15, "labelOverlap": false, "tickSize": 10, "labelPadding": 20, "titleFontSize": 16, "titlePadding": 4, "tickOpacity": {"condition": {"test": "datum.value % 1 !== 0", "value": 0}, "value": 1}, "gridColor": {"condition": {"test": "datum.value === 0", "value": "#222222"}, "value": "#b0b0b0"}}},
  "color": {"field": "s", "type": "nominal", "scale": {"domain": ["DFT", "AlCu", "AlCuMg", "AlCuMgZn"], "range": ["#000000", "#008000", "#ff0000", "#0000ff"]}, "legend": {"title": null, "orient": "none", "legendX": -2, "legendY": -63, "direction": "horizontal", "encode": {"symbols": {"update": {"shape": {"signal": "datum.value === 'DFT' ? 'M-1.91,0H1.91M0.26,0A0.26,0.26 0 1,1 -0.26,0A0.26,0.26 0 1,1 0.26,0Z' : 'M-1.91,0H1.91M0,-0.82V0.82M-0.35,-0.82H0.35M-0.35,0.82H0.35M0.17,0A0.17,0.17 0 1,1 -0.17,0A0.17,0.17 0 1,1 0.17,0Z'"}, "fill": {"scale": "color", "field": "value"}, "stroke": {"scale": "color", "field": "value"}, "strokeWidth": {"value": 1.5}, "opacity": {"value": 1}}}}}}
 },
 "layer": [
  {"transform": [{"filter": "datum.s === 'DFT'"}], "mark": {"type": "line", "strokeWidth": 1.4, "invalid": "break-paths-show-domains", "clip": true}},
  {"transform": [{"filter": "datum.s === 'DFT' && isValid(datum.v)"}], "mark": {"type": "point", "filled": true, "size": 60, "opacity": 1, "clip": true}},
  {"transform": [{"filter": "isValid(datum.e) && isValid(datum.v)"}], "mark": {"type": "errorbar", "ticks": {"size": 13, "thickness": 2}, "thickness": 1.3, "clip": true}, "encoding": {"yError": {"field": "e"}}},
  {"transform": [{"filter": "datum.s !== 'DFT'"}], "mark": {"type": "line", "strokeWidth": 1.2, "invalid": "break-paths-show-domains", "clip": true}},
  {"transform": [{"filter": "datum.s !== 'DFT' && isValid(datum.v)"}], "mark": {"type": "point", "filled": true, "size": 16, "opacity": 1, "clip": true}}
 ]
},
{
 "width": 904, "height": 76,
 "transform": [{"filter": "datum.p === 2"}],
 "encoding": {
  "x": {"field": "i", "type": "ordinal", "scale": {"type": "point", "domain": [1,2,3,4,5,6,7,8,9,10,11,12,13,14,15,16,17,18,19,20,21,22,23,24,25,26,27,28,29,30,31,32,33,34,35,36,37,38,39,40,41,42,43,44], "padding": 0.163}, "axis": {"title": null, "labels": false, "grid": true, "tickSize": 9}},
  "y": {"field": "v", "type": "quantitative", "scale": {"domain": [-1.5, 2.5], "nice": false, "zero": false}, "axis": {"title": "Cu → Al", "values": [-1.5,-1,-0.5,0,0.5,1,1.5,2,2.5], "labelExpr": "datum.value === -1 ? '−1' : (datum.value % 1 === 0 ? format(datum.value, 'd') : '')", "labelFontSize": 15, "labelOverlap": false, "tickSize": 10, "labelPadding": 20, "titleFontSize": 16, "titlePadding": 4, "tickOpacity": {"condition": {"test": "datum.value % 1 !== 0", "value": 0}, "value": 1}, "gridColor": {"condition": {"test": "datum.value === 0", "value": "#222222"}, "value": "#b0b0b0"}}},
  "color": {"field": "s", "type": "nominal", "scale": {"domain": ["DFT", "AlCu", "AlCuMg", "AlCuMgZn"], "range": ["#000000", "#008000", "#ff0000", "#0000ff"]}, "legend": {"title": null, "orient": "none", "legendX": -2, "legendY": -63, "direction": "horizontal", "encode": {"symbols": {"update": {"shape": {"signal": "datum.value === 'DFT' ? 'M-1.91,0H1.91M0.26,0A0.26,0.26 0 1,1 -0.26,0A0.26,0.26 0 1,1 0.26,0Z' : 'M-1.91,0H1.91M0,-0.82V0.82M-0.35,-0.82H0.35M-0.35,0.82H0.35M0.17,0A0.17,0.17 0 1,1 -0.17,0A0.17,0.17 0 1,1 0.17,0Z'"}, "fill": {"scale": "color", "field": "value"}, "stroke": {"scale": "color", "field": "value"}, "strokeWidth": {"value": 1.5}, "opacity": {"value": 1}}}}}}
 },
 "layer": [
  {"transform": [{"filter": "datum.s === 'DFT'"}], "mark": {"type": "line", "strokeWidth": 1.4, "invalid": "break-paths-show-domains", "clip": true}},
  {"transform": [{"filter": "datum.s === 'DFT' && isValid(datum.v)"}], "mark": {"type": "point", "filled": true, "size": 60, "opacity": 1, "clip": true}},
  {"transform": [{"filter": "isValid(datum.e) && isValid(datum.v)"}], "mark": {"type": "errorbar", "ticks": {"size": 13, "thickness": 2}, "thickness": 1.3, "clip": true}, "encoding": {"yError": {"field": "e"}}},
  {"transform": [{"filter": "datum.s !== 'DFT'"}], "mark": {"type": "line", "strokeWidth": 1.2, "invalid": "break-paths-show-domains", "clip": true}},
  {"transform": [{"filter": "datum.s !== 'DFT' && isValid(datum.v)"}], "mark": {"type": "point", "filled": true, "size": 16, "opacity": 1, "clip": true}}
 ]
},
{
 "width": 904, "height": 76,
 "transform": [{"filter": "datum.p === 3"}],
 "encoding": {
  "x": {"field": "i", "type": "ordinal", "scale": {"type": "point", "domain": [1,2,3,4,5,6,7,8,9,10,11,12,13,14,15,16,17,18,19,20,21,22,23,24,25,26,27,28,29,30,31,32,33,34,35,36,37,38,39,40,41,42,43,44], "padding": 0.163}, "axis": {"title": null, "labels": false, "grid": true, "tickSize": 9}},
  "y": {"field": "v", "type": "quantitative", "scale": {"domain": [-1.5, 2.5], "nice": false, "zero": false}, "axis": {"title": "Al → Vac", "values": [-1.5,-1,-0.5,0,0.5,1,1.5,2,2.5], "labelExpr": "datum.value === -1 ? '−1' : (datum.value % 1 === 0 ? format(datum.value, 'd') : '')", "labelFontSize": 15, "labelOverlap": false, "tickSize": 10, "labelPadding": 20, "titleFontSize": 16, "titlePadding": 4, "tickOpacity": {"condition": {"test": "datum.value % 1 !== 0", "value": 0}, "value": 1}, "gridColor": {"condition": {"test": "datum.value === 0", "value": "#222222"}, "value": "#b0b0b0"}}},
  "color": {"field": "s", "type": "nominal", "scale": {"domain": ["DFT", "AlCu", "AlCuMg", "AlCuMgZn"], "range": ["#000000", "#008000", "#ff0000", "#0000ff"]}, "legend": {"title": null, "orient": "none", "legendX": -2, "legendY": -63, "direction": "horizontal", "encode": {"symbols": {"update": {"shape": {"signal": "datum.value === 'DFT' ? 'M-1.91,0H1.91M0.26,0A0.26,0.26 0 1,1 -0.26,0A0.26,0.26 0 1,1 0.26,0Z' : 'M-1.91,0H1.91M0,-0.82V0.82M-0.35,-0.82H0.35M-0.35,0.82H0.35M0.17,0A0.17,0.17 0 1,1 -0.17,0A0.17,0.17 0 1,1 0.17,0Z'"}, "fill": {"scale": "color", "field": "value"}, "stroke": {"scale": "color", "field": "value"}, "strokeWidth": {"value": 1.5}, "opacity": {"value": 1}}}}}}
 },
 "layer": [
  {"transform": [{"filter": "datum.s === 'DFT'"}], "mark": {"type": "line", "strokeWidth": 1.4, "invalid": "break-paths-show-domains", "clip": true}},
  {"transform": [{"filter": "datum.s === 'DFT' && isValid(datum.v)"}], "mark": {"type": "point", "filled": true, "size": 60, "opacity": 1, "clip": true}},
  {"transform": [{"filter": "isValid(datum.e) && isValid(datum.v)"}], "mark": {"type": "errorbar", "ticks": {"size": 13, "thickness": 2}, "thickness": 1.3, "clip": true}, "encoding": {"yError": {"field": "e"}}},
  {"transform": [{"filter": "datum.s !== 'DFT'"}], "mark": {"type": "line", "strokeWidth": 1.2, "invalid": "break-paths-show-domains", "clip": true}},
  {"transform": [{"filter": "datum.s !== 'DFT' && isValid(datum.v)"}], "mark": {"type": "point", "filled": true, "size": 16, "opacity": 1, "clip": true}}
 ]
},
{
 "width": 904, "height": 76,
 "transform": [{"filter": "datum.p === 4"}],
 "encoding": {
  "x": {"field": "i", "type": "ordinal", "scale": {"type": "point", "domain": [1,2,3,4,5,6,7,8,9,10,11,12,13,14,15,16,17,18,19,20,21,22,23,24,25,26,27,28,29,30,31,32,33,34,35,36,37,38,39,40,41,42,43,44], "padding": 0.163}, "axis": {"title": null, "grid": true, "tickSize": 9, "labelAngle": 90, "labelFontSize": 11.5, "labelPadding": 15, "labelOverlap": false, "labelExpr": "['Al₅Cu₅ C2/m','Al₂Cu θ′','Al₂Cu₂ Pmma','Al₂Cu θ','Al₃Cu₂ P-3m1','Al₂Cu₆ Pmmn','Al₂Cu₆ P6_3/mmc','AlCu₃ I4/mmm','AlCu₃ Pm-3m','AlCu P4/mmm','AlCu Pm-3m B2','AlCu₃ Fm-3m','AlCu P-6m2','Al₃Cu θ″','AlCu R-3m','Al₄Cu₆ P2_13','Al₃Cu I4/mmm','Al₃Cu Pm-3m','Al FCC','Al₂Cu P4/mmm','Al₂ P6_3/mmc','Al₆Cu₂ P6_3/mmc','Al₂₀ P4_132','Al₈ Pm-3n','Al Im-3m','Cu FCC','Al₃Cu Fm-3m','Cu₃ R-3m','Cu₂ P6_3/mmc','Cu₂ Cmcm','Al₂ Fmmm','Cu Im-3m','Al₄Cu₂ P4_2/mmm','Cu₂₀ P4_132','Al₄ Cmce','Cu₈ Pm-3n','AlCu Fm-3m','Al₂ I4_1/amd','Cu₂ I4_1/amd','Al₄ P6_3/mmc','AlCu F-43m','Al₂ Fd-3m','Cu₄ P6_3/mmc','Cu₂ Fd-3m'][datum.value - 1]"}},
  "y": {"field": "v", "type": "quantitative", "scale": {"domain": [-1.5, 2.5], "nice": false, "zero": false}, "axis": {"title": "Cu → Vac", "values": [-1.5,-1,-0.5,0,0.5,1,1.5,2,2.5], "labelExpr": "datum.value === -1 ? '−1' : (datum.value % 1 === 0 ? format(datum.value, 'd') : '')", "labelFontSize": 15, "labelOverlap": false, "tickSize": 10, "labelPadding": 20, "titleFontSize": 16, "titlePadding": 4, "tickOpacity": {"condition": {"test": "datum.value % 1 !== 0", "value": 0}, "value": 1}, "gridColor": {"condition": {"test": "datum.value === 0", "value": "#222222"}, "value": "#b0b0b0"}}},
  "color": {"field": "s", "type": "nominal", "scale": {"domain": ["DFT", "AlCu", "AlCuMg", "AlCuMgZn"], "range": ["#000000", "#008000", "#ff0000", "#0000ff"]}, "legend": {"title": null, "orient": "none", "legendX": -2, "legendY": -63, "direction": "horizontal", "encode": {"symbols": {"update": {"shape": {"signal": "datum.value === 'DFT' ? 'M-1.91,0H1.91M0.26,0A0.26,0.26 0 1,1 -0.26,0A0.26,0.26 0 1,1 0.26,0Z' : 'M-1.91,0H1.91M0,-0.82V0.82M-0.35,-0.82H0.35M-0.35,0.82H0.35M0.17,0A0.17,0.17 0 1,1 -0.17,0A0.17,0.17 0 1,1 0.17,0Z'"}, "fill": {"scale": "color", "field": "value"}, "stroke": {"scale": "color", "field": "value"}, "strokeWidth": {"value": 1.5}, "opacity": {"value": 1}}}}}}
 },
 "layer": [
  {"transform": [{"filter": "datum.s === 'DFT'"}], "mark": {"type": "line", "strokeWidth": 1.4, "invalid": "break-paths-show-domains", "clip": true}},
  {"transform": [{"filter": "datum.s === 'DFT' && isValid(datum.v)"}], "mark": {"type": "point", "filled": true, "size": 60, "opacity": 1, "clip": true}},
  {"transform": [{"filter": "isValid(datum.e) && isValid(datum.v)"}], "mark": {"type": "errorbar", "ticks": {"size": 13, "thickness": 2}, "thickness": 1.3, "clip": true}, "encoding": {"yError": {"field": "e"}}},
  {"transform": [{"filter": "datum.s !== 'DFT'"}], "mark": {"type": "line", "strokeWidth": 1.2, "invalid": "break-paths-show-domains", "clip": true}},
  {"transform": [{"filter": "datum.s !== 'DFT' && isValid(datum.v)"}], "mark": {"type": "point", "filled": true, "size": 16, "opacity": 1, "clip": true}}
 ]
}
],
"config": {
 "font": "DejaVu Sans",
 "view": {"stroke": "#000000", "strokeWidth": 2},
 "axis": {"domain": false, "tickColor": "#000000", "tickWidth": 1.6, "labelColor": "#000000", "titleColor": "#000000", "gridColor": "#b0b0b0", "gridWidth": 1.4, "titleFontWeight": "normal", "labelFont": "DejaVu Sans", "titleFont": "DejaVu Sans"},
 "legend": {"labelFontSize": 31, "labelFont": "DejaVu Sans", "labelColor": "#000000", "symbolSize": 1156, "symbolOffset": 15.5, "labelOffset": 42, "columnPadding": 33, "padding": 11, "strokeColor": "#cccccc", "cornerRadius": 5, "fillColor": "#ffffff", "labelLimit": 0}
}
}
